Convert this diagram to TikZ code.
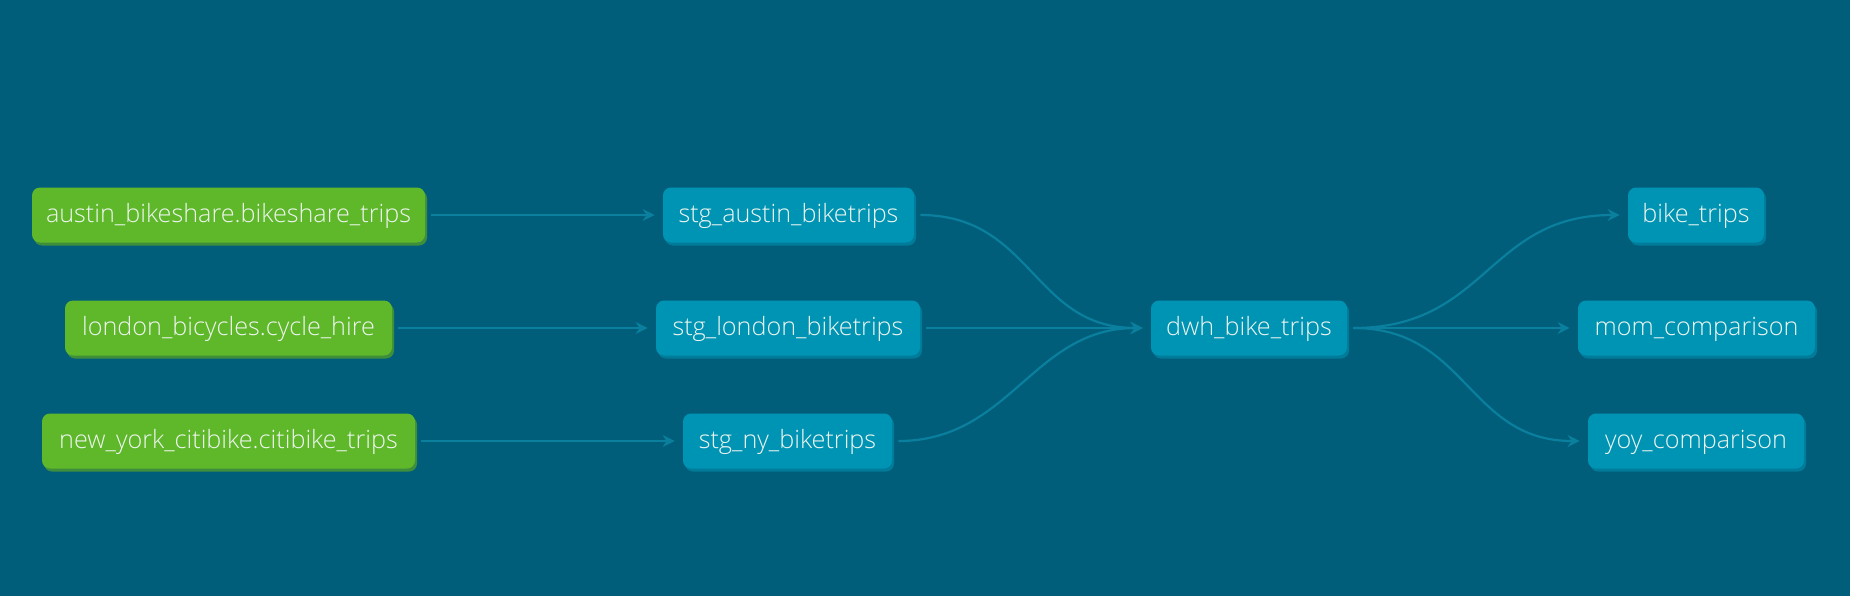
\documentclass[tikz,border=0pt]{standalone}
\usepackage{fontspec}
\setmainfont{Open Sans Light}
\usetikzlibrary{arrows.meta}
\definecolor{bg}{HTML}{005E7A}
\definecolor{nodeteal}{HTML}{0094B4}
\definecolor{tealshadow}{HTML}{007B99}
\definecolor{nodegreen}{HTML}{5EB82A}
\definecolor{greenshadow}{HTML}{3E8E3C}
\definecolor{edgecol}{HTML}{0A7F9E}
\definecolor{txt}{HTML}{EEF5F0}
\begin{document}
\begin{tikzpicture}[x=0.5pt,y=-0.5pt,
  base/.style={rounded corners=4pt, text=txt, minimum height=27.5pt, inner sep=0pt,
    text height=8.6pt, text depth=1.6pt, font=\fontsize{12.6}{14}\selectfont},
  model/.style={base, fill=nodeteal, preaction={fill=tealshadow, transform canvas={shift={(1pt,-1.5pt)}}}},
  source/.style={base, fill=nodegreen, preaction={fill=greenshadow, transform canvas={shift={(1pt,-1.5pt)}}}},
  link/.style={draw=edgecol, line width=1.1pt, -{Stealth[length=6pt,width=6pt,inset=2pt]}, shorten >=4pt, shorten <=3pt}]
\fill[bg] (0,0) rectangle (1850,596);
\useasboundingbox (0,0) rectangle (1850,596);

\node[source, minimum width=196.5pt] (a) at (228.5,215) {austin\_bikeshare.bikeshare\_trips};
\node[source, minimum width=163.5pt] (l) at (228.5,328) {london\_bicycles.cycle\_hire};
\node[source, minimum width=186.5pt] (n) at (228.5,441) {new\_york\_citibike.citibike\_trips};

\node[model, minimum width=125.5pt] (sa) at (788.5,215) {stg\_austin\_biketrips};
\node[model, minimum width=132pt] (sl) at (788,328) {stg\_london\_biketrips};
\node[model, minimum width=104.5pt] (sn) at (787.5,441) {stg\_ny\_biketrips};

\node[model, minimum width=98pt] (d) at (1249,328) {dwh\_bike\_trips};

\node[model, minimum width=68pt] (bt) at (1696,215) {bike\_trips};
\node[model, minimum width=118.5pt] (mom) at (1696.5,328) {mom\_comparison};
\node[model, minimum width=108pt] (yoy) at (1696,441) {yoy\_comparison};

\draw[link] (a.east) -- (sa.west);
\draw[link] (l.east) -- (sl.west);
\draw[link] (n.east) -- (sn.west);

\draw[link] (sa.east) .. controls +(59pt,0) and +(-59pt,0) .. (d.west);
\draw[link] (sl.east) -- (d.west);
\draw[link] (sn.east) .. controls +(59pt,0) and +(-59pt,0) .. (d.west);

\draw[link] (d.east) .. controls +(70pt,0) and +(-70pt,0) .. (bt.west);
\draw[link] (d.east) -- (mom.west);
\draw[link] (d.east) .. controls +(60pt,0) and +(-60pt,0) .. (yoy.west);
\end{tikzpicture}
\end{document}
